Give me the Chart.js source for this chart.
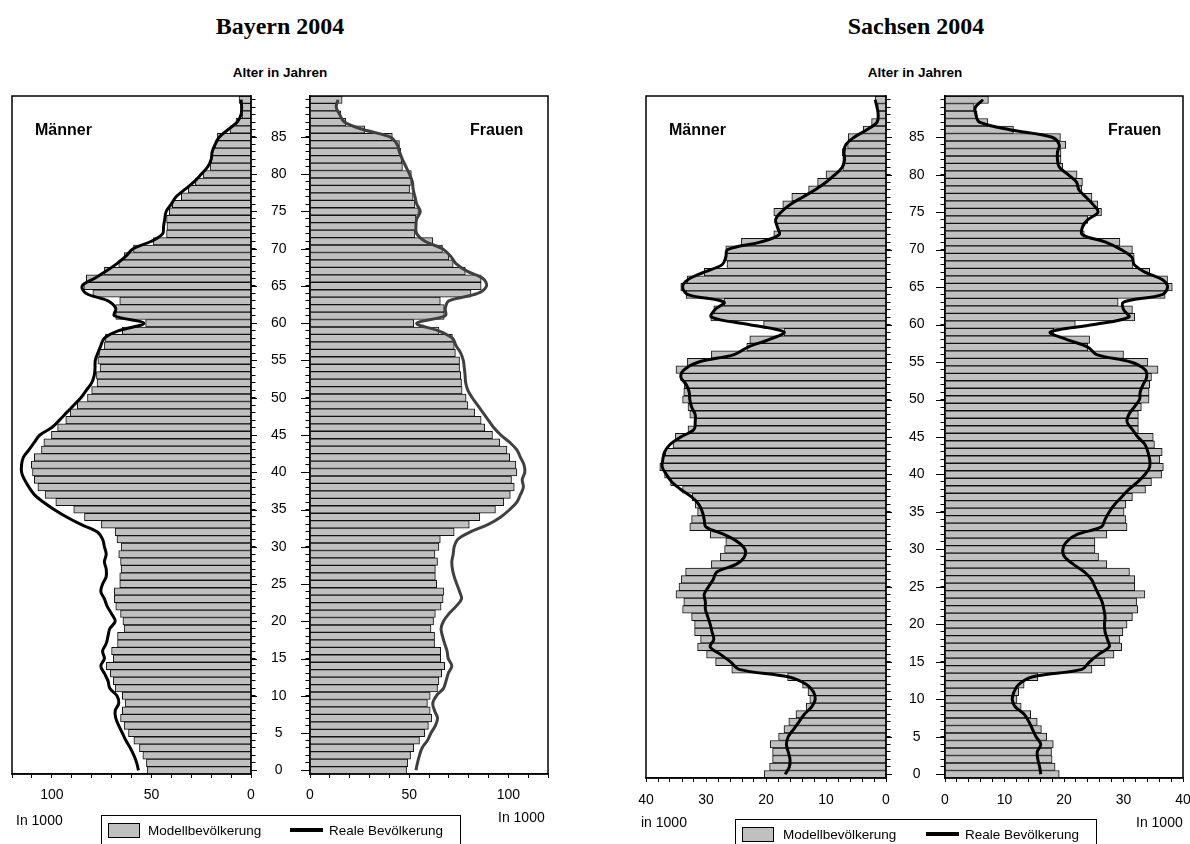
<!DOCTYPE html>
<html>
<head>
<meta charset="utf-8">
<script src="https://cdn.jsdelivr.net/npm/chart.js@4.4.1/dist/chart.umd.min.js"></script>
<style>
  body { margin: 0; background: #fff; width: 1190px; height: 844px; overflow: hidden; position: relative;
         font-family: "Liberation Sans", Arial, sans-serif; color: #000; }
  canvas { position: absolute; }
  .t { position: absolute; white-space: nowrap; line-height: 1; }
  .title { font-family: "Liberation Serif", "Times New Roman", serif; font-weight: bold; font-size: 24px; transform: translateX(-50%); }
  .sub { font-weight: bold; font-size: 13.5px; transform: translateX(-50%); }
  .sex { font-weight: bold; font-size: 16px; }
  .unit { font-size: 14px; }
  .legend { position: absolute; border: 1px solid #000; background: #fff; height: 34px; }
  .swatch { position: absolute; top: 7px; width: 30px; height: 13px; background: #c0c0c0; border: 1px solid #000; }
  .lline { position: absolute; top: 12px; width: 33px; height: 4px; background: #000; }
  .ltxt { position: absolute; top: 7px; font-size: 13.5px; }
</style>
</head>
<body>

<div class="t title" style="left:280px; top:14px;">Bayern 2004</div>
<div class="t title" style="left:916px; top:14px;">Sachsen 2004</div>
<div class="t sub" style="left:280px; top:66px;">Alter in Jahren</div>
<div class="t sub" style="left:915px; top:66px;">Alter in Jahren</div>

<canvas id="bayernM" width="257" height="740" style="left:0px; top:86px;"></canvas>
<canvas id="bayernF" width="299" height="740" style="left:257px; top:86px;"></canvas>
<canvas id="sachsenM" width="258" height="740" style="left:634px; top:86px;"></canvas>
<canvas id="sachsenF" width="298" height="740" style="left:892px; top:86px;"></canvas>

<div class="t sex" style="left:35px; top:122px;">Männer</div>
<div class="t sex" style="left:470px; top:122px;">Frauen</div>
<div class="t sex" style="left:669px; top:122px;">Männer</div>
<div class="t sex" style="left:1108px; top:122px;">Frauen</div>

<div class="t unit" style="left:16px; top:813px;">In 1000</div>
<div class="t unit" style="left:498px; top:810px;">In 1000</div>
<div class="t unit" style="left:641px; top:815px;">in 1000</div>
<div class="t unit" style="left:1136px; top:815px;">In 1000</div>

<div class="legend" style="left:101px; top:815px; width:358px;">
  <div class="swatch" style="left:6px;"></div>
  <div class="ltxt" style="left:46px;">Modellbevölkerung</div>
  <div class="lline" style="left:188px;"></div>
  <div class="ltxt" style="left:227px;">Reale Bevölkerung</div>
</div>
<div class="legend" style="left:735px; top:819px; width:360px;">
  <div class="swatch" style="left:6px;"></div>
  <div class="ltxt" style="left:47px;">Modellbevölkerung</div>
  <div class="lline" style="left:190px;"></div>
  <div class="ltxt" style="left:229px;">Reale Bevölkerung</div>
</div>

<script>
// age categories, top to bottom
const ages = [90, 89, 88, 87, 86, 85, 84, 83, 82, 81,
              80, 79, 78, 77, 76, 75, 74, 73, 72, 71,
              70, 69, 68, 67, 66, 65, 64, 63, 62, 61,
              60, 59, 58, 57, 56, 55, 54, 53, 52, 51,
              50, 49, 48, 47, 46, 45, 44, 43, 42, 41,
              40, 39, 38, 37, 36, 35, 34, 33, 32, 31,
              30, 29, 28, 27, 26, 25, 24, 23, 22, 21,
              20, 19, 18, 17, 16, 15, 14, 13, 12, 11,
              10, 9, 8, 7, 6, 5, 4, 3, 2, 1,
              0];
// only these ages get a label on the middle axis
const ageLabels = [85, 80, 75, 70, 65, 60, 55, 50, 45, 40, 35, 30, 25, 20, 15, 10, 5, 0];

// Bayern 2004, in 1000, age 90 down to 0
const bayernMaenModell = [6, 4.5, 4.5, 7.5, 10.5, 17, 18, 19.5, 20, 20.5,
  24, 28, 31.5, 35, 39.5, 41, 42.4, 42.2, 42.4, 49,
  59, 63.7, 66.4, 73.6, 82.7, 83.9, 79.4, 65.9, 67.9, 67.9,
  52.9, 64.6, 73.1, 73.6, 76.4, 76.9, 75.8, 77.6, 77.3, 80,
  82.1, 87.2, 90.8, 93, 97.1, 100.2, 104, 105.2, 108.8, 110.3,
  109.7, 108.8, 107, 103.4, 98, 89, 83.6, 75.1, 68.2, 67.3,
  65.2, 66.4, 65.5, 65.2, 65.9, 65.9, 68.6, 68.6, 67.9, 65.5,
  64.3, 63.7, 67, 67, 70, 69.1, 72.7, 70.6, 69.1, 68.2,
  64.6, 63.2, 64.6, 65.5, 63.7, 61.5, 58.8, 56, 54.3, 52.5,
  52];
const bayernMaenReal = [5, 4.7, 5, 6.9, 11.4, 15.9, 18, 19.5, 20, 21.7,
  25, 28.5, 33, 37.5, 40, 42.6, 43.3, 43.9, 44.4, 50,
  59.2, 62.8, 67.3, 72.7, 78.7, 84.8, 82.7, 71.8, 67.9, 68.6,
  53.8, 66.4, 73.6, 75.4, 76.9, 78.2, 78.3, 78.7, 80, 82.7,
  85.4, 89, 92.6, 96.2, 100, 106, 108.8, 111.5, 114.3, 115.2,
  115.2, 113.7, 111.5, 108.8, 104.3, 98.9, 92.6, 85.4, 77.3, 74.5,
  73.6, 72.7, 73.6, 72.7, 72.7, 74.5, 75.4, 73.6, 72.2, 70,
  68.2, 70.9, 71.8, 72.7, 74.5, 73.6, 75.4, 73.6, 71.8, 70.9,
  67.3, 66.4, 68.2, 67.9, 66.4, 64.6, 62.8, 60.6, 58.8, 57.4,
  56.5];
const bayernFrauModell = [16.2, 13.7, 15.5, 18, 27.6, 41.5, 45.1, 45.7, 46.2, 46.6,
  51.1, 51.1, 50.2, 52, 52.9, 54.7, 53.4, 53.4, 52.9, 61.9,
  66.8, 70, 72.2, 78.3, 86.3, 86.3, 81.2, 65.7, 67.7, 67.7,
  52.3, 65, 71.8, 72.7, 73.3, 75.4, 75.4, 76, 76.4, 76.7,
  78.7, 79.6, 83, 86.3, 88.1, 92, 95.7, 99.3, 100.7, 103.8,
  104.3, 101.6, 103, 101, 97.7, 93.5, 85.6, 80.3, 72.7, 65.7,
  65, 63, 64.3, 63.2, 63.2, 63.9, 67.5, 67.1, 66.1, 63.2,
  62.3, 61, 62.8, 62.8, 65.9, 65.9, 67.9, 66.4, 65, 64.3,
  60.6, 59.2, 60.6, 61.4, 59.7, 57.8, 55.2, 52.3, 50.7, 49.3,
  48.7];
const bayernFrauReal = [14.1, 13.2, 15, 17.3, 26.7, 40.3, 43.9, 45.1, 46.6, 48.4,
  50.2, 51.6, 52, 52.9, 53.8, 55.6, 53.8, 53.4, 53.8, 58,
  66.8, 70.9, 73.6, 79.1, 87.2, 89, 84.5, 70, 68.2, 68.2,
  53.8, 64.6, 71.8, 73.6, 76, 77.3, 77.8, 78.2, 78.5, 79.6,
  81.8, 84.5, 87.2, 89.9, 92.6, 96.2, 100.7, 104.3, 106.1, 107.9,
  108.3, 107, 107.6, 106.1, 104.3, 100.7, 96.2, 89.9, 80.9, 74.5,
  72.7, 72.2, 71.5, 71.8, 72.7, 74, 75.4, 76.4, 73.6, 70,
  67.3, 66.1, 66.8, 67.9, 69.1, 69.7, 71.5, 69.7, 68.6, 67.3,
  63.7, 61.9, 62.8, 64.3, 63.2, 61, 59.2, 56.5, 55.2, 54.2,
  53.4];

// Sachsen 2004, in 1000, age 90 down to 0
const sachsenMaenModell = [1.8, 1.4, 1.4, 2.4, 3.8, 6.3, 6.4, 7.3, 7.2, 7.2,
  10, 11.4, 12.9, 15.7, 17.2, 18.7, 18.4, 18.1, 18.7, 24.1,
  26.7, 26.7, 26.5, 30.3, 33.1, 34.2, 33.3, 27, 28.7, 29.2,
  20.4, 17, 22.7, 23.2, 29.1, 33.1, 35, 34.2, 33.6, 33.7,
  33.9, 33, 32.7, 31.8, 33, 35.1, 35.5, 36.8, 37.2, 37.7,
  36.9, 35.9, 33.9, 32.3, 31.8, 31.4, 32.4, 32.7, 29.3, 26.7,
  26.9, 27.6, 29.1, 33.4, 34.1, 34.5, 35, 33.7, 33.9, 32.4,
  31.9, 31.9, 30.9, 31.4, 29.9, 28.4, 25.7, 16.4, 13.9, 13,
  12.7, 13.3, 15, 16.2, 17, 17.9, 19.3, 18.9, 18.9, 19.4,
  20.3];
const sachsenMaenReal = [1.8, 1.5, 1.3, 1.5, 3.2, 5.3, 6.7, 7, 6.9, 7.3,
  8.5, 10, 11.8, 13.9, 16, 17.5, 18.4, 18.1, 17.8, 21,
  26.4, 26.7, 27.3, 30.3, 33, 33.9, 33, 27, 28.5, 29.1,
  22.9, 17, 19.5, 23, 25.3, 31.2, 33.6, 34.2, 33.3, 32.8,
  32.7, 32.4, 31.8, 31.8, 32, 34.2, 36, 36.9, 37.2, 37.3,
  36.6, 35.7, 34.2, 32.4, 31.2, 30.6, 30.3, 30, 27, 24.7,
  23.5, 23.6, 25, 28.2, 28.8, 29.6, 30.3, 30.1, 30.1, 29.7,
  29.3, 29, 28.7, 29.3, 27.6, 25.9, 24.5, 16.3, 13.3, 12.1,
  11.8, 12.4, 13.6, 14.5, 15.4, 16.3, 16.6, 16.3, 16, 16.1,
  16.8];
const sachsenFrauModell = [7.3, 4.9, 5.4, 7.2, 11.5, 19.4, 20.3, 19.5, 19.5, 19.8,
  22.2, 23.1, 23, 24.7, 25.7, 26.3, 24, 23.1, 23.4, 29.4,
  31.5, 31.8, 31.6, 34.4, 37.4, 38.2, 37, 29.1, 31.5, 31.9,
  21.9, 18.3, 24.3, 24, 30, 34.1, 35.8, 34.7, 34.4, 34.3,
  34.3, 33, 32.5, 32.5, 32.5, 35, 35.2, 36.5, 36.1, 36.7,
  36.4, 34.7, 33.7, 31.5, 30.4, 30.1, 30.4, 30.6, 27.2, 25.2,
  25.2, 25.8, 27.2, 31, 31.9, 31.9, 33.6, 32.2, 32.4, 31.5,
  30.6, 29.9, 29.4, 29.7, 28.4, 26.9, 24.7, 15.6, 13.3, 12.4,
  12.1, 12.8, 14.4, 15.5, 16.2, 17.1, 18.2, 17.9, 18, 18.5,
  19.2];
const sachsenFrauReal = [6.4, 5.1, 5.2, 5.8, 10.9, 18, 19.2, 18.9, 18.9, 19.2,
  20.7, 22.1, 22.5, 23.7, 24.9, 25.7, 24, 23.1, 23.1, 27,
  29.6, 31.4, 31.8, 33.6, 36.5, 37.4, 36.5, 30, 30, 30.9,
  25, 17.7, 20.5, 24, 25.5, 31.2, 33.6, 33.9, 33.3, 32.8,
  32.7, 31.8, 30.9, 30.6, 31.5, 32.4, 33.6, 34.1, 34.4, 34.4,
  33.6, 32.4, 30.9, 29.7, 28.5, 27.6, 26.9, 26.3, 22.2, 20.4,
  19.8, 20.1, 21.6, 23.4, 24.6, 25.2, 25.8, 26.4, 26.7, 26.9,
  26.8, 26.9, 27.3, 27.6, 25.8, 24.3, 23, 14.8, 12.4, 11.6,
  11.3, 11.8, 13.3, 14.1, 14.7, 15.3, 16.1, 15.5, 15.6, 15.9,
  16.1];

// black box around each plot area
const frame = {
  id: 'frame',
  afterDatasetsDraw(chart) {
    const a = chart.chartArea;
    const ctx = chart.ctx;
    ctx.save();
    ctx.strokeStyle = '#000';
    ctx.lineWidth = 1.5;
    ctx.strokeRect(a.left, a.top, a.right - a.left, a.bottom - a.top);
    ctx.restore();
  }
};

// longer tick marks at the labelled ages
const majorTicks = {
  id: 'majorTicks',
  afterDraw(chart) {
    const y = chart.scales.y;
    const ctx = chart.ctx;
    const onRight = y.position === 'right';
    const x0 = onRight ? y.left : y.right;
    const len = onRight ? 9 : -9;
    ctx.save();
    ctx.strokeStyle = '#000';
    ctx.lineWidth = 1;
    ages.forEach((a, i) => {
      if (!ageLabels.includes(a)) return;
      const py = Math.round(y.getPixelForTick(i)) + 0.5;
      ctx.beginPath();
      ctx.moveTo(x0, py);
      ctx.lineTo(x0 + len, py);
      ctx.stroke();
    });
    ctx.restore();
  }
};

const tickFont = { family: "'Liberation Sans', Arial, sans-serif", size: 14 };

function pyramidHalf(id, p) {
  new Chart(document.getElementById(id), {
    type: 'bar',
    data: {
      labels: ages,
      datasets: [
        { type: 'line', indexAxis: 'y', data: p.real, borderColor: p.lineColor, borderWidth: 3,
          pointRadius: 0, tension: 0.35, fill: false, order: 0 },
        { type: 'bar', data: p.model, backgroundColor: '#c0c0c0', borderColor: '#111', borderWidth: 1,
          barPercentage: 1, categoryPercentage: 1, order: 1 }
      ]
    },
    options: {
      indexAxis: 'y',
      responsive: false,
      animation: false,
      layout: { padding: { left: p.padLeft, right: p.padRight, top: 10, bottom: 0 } },
      plugins: { legend: { display: false }, tooltip: { enabled: false } },
      scales: {
        x: {
          type: 'linear', min: 0, max: p.max, reverse: p.male,
          ticks: { stepSize: p.step, autoSkip: false, maxRotation: 0, padding: p.xPad, color: '#000', font: tickFont,
                   callback: v => (v % p.labelEvery === 0 ? String(v) : '') },
          grid: { drawOnChartArea: false, tickLength: 4, color: '#000', lineWidth: 1 },
          border: { color: '#000', width: 1.5 },
          afterFit: s => { s.height = p.xHeight; s.paddingLeft = 0; s.paddingRight = 0; }
        },
        y: {
          type: 'category', position: p.male ? 'right' : 'left', offset: true,
          ticks: { display: !p.male, autoSkip: false, crossAlign: 'center', padding: p.yPad, color: '#000', font: tickFont,
                   callback: (v, i) => (ageLabels.includes(ages[i]) ? String(ages[i]) : '') },
          grid: { drawOnChartArea: false, offset: false, tickLength: 4.5, color: '#000', lineWidth: 1 },
          border: { color: '#000', width: 1.5 },
          afterFit: s => { s.width = p.yWidth; s.paddingTop = 0; s.paddingBottom = 0; }
        }
      }
    },
    plugins: [frame, majorTicks]
  });
}

pyramidHalf('bayernM', { model: bayernMaenModell, real: bayernMaenReal, lineColor: '#000', male: true,
  max: 120, step: 10, labelEvery: 50, padLeft: 12, padRight: 0, yWidth: 6, yPad: 0, xHeight: 52, xPad: 9 });
pyramidHalf('bayernF', { model: bayernFrauModell, real: bayernFrauReal, lineColor: '#404040', male: false,
  max: 120, step: 10, labelEvery: 50, padLeft: 0, padRight: 8, yWidth: 53, yPad: 19, xHeight: 52, xPad: 9 });
pyramidHalf('sachsenM', { model: sachsenMaenModell, real: sachsenMaenReal, lineColor: '#000', male: true,
  max: 40, step: 2, labelEvery: 10, padLeft: 12, padRight: 0, yWidth: 6, yPad: 0, xHeight: 48, xPad: 10 });
pyramidHalf('sachsenF', { model: sachsenFrauModell, real: sachsenFrauReal, lineColor: '#000', male: false,
  max: 40, step: 2, labelEvery: 10, padLeft: 0, padRight: 7, yWidth: 53, yPad: 16, xHeight: 48, xPad: 10 });
</script>
</body>
</html>
